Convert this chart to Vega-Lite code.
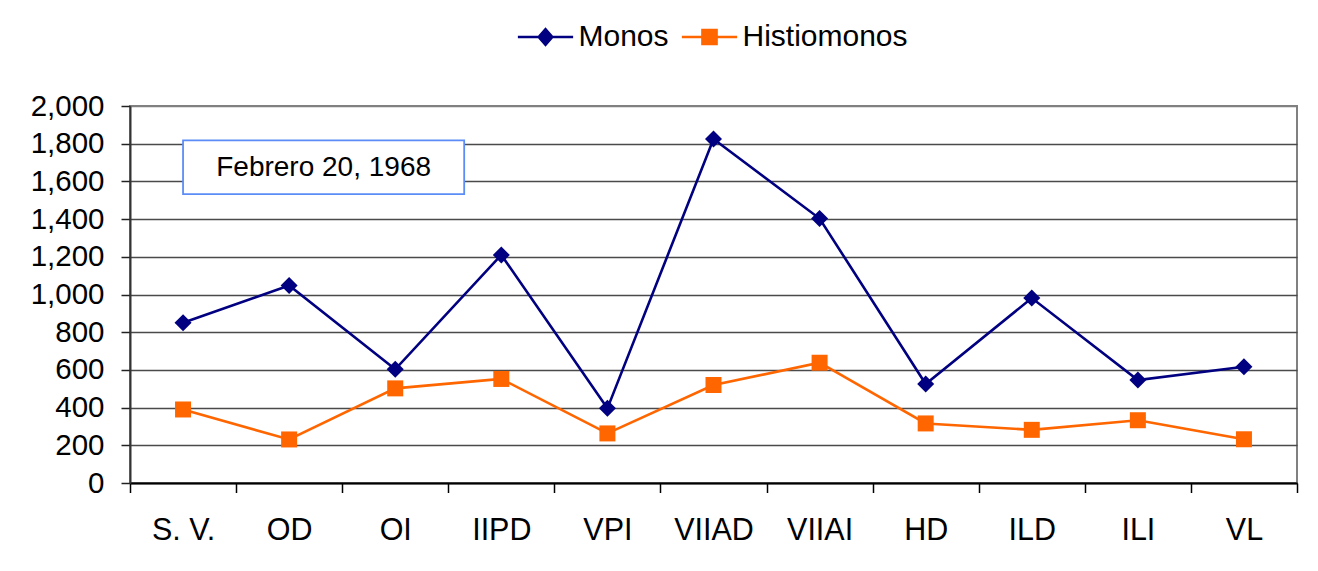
{
  "$schema": "https://vega.github.io/schema/vega-lite/v6.json",
  "width": 1167,
  "height": 377,
  "autosize": {"type": "none"},
  "padding": {"left": 130, "top": 106, "right": 21, "bottom": 88},
  "background": "white",
  "config": {
    "font": "Liberation Sans",
    "view": {"stroke": "#808080", "strokeWidth": 2}
  },
  "datasets": {
    "main": [
      {"site": "S. V.", "series": "Monos", "value": 850},
      {"site": "OD", "series": "Monos", "value": 1048},
      {"site": "OI", "series": "Monos", "value": 603},
      {"site": "IIPD", "series": "Monos", "value": 1210},
      {"site": "VPI", "series": "Monos", "value": 396},
      {"site": "VIIAD", "series": "Monos", "value": 1825},
      {"site": "VIIAI", "series": "Monos", "value": 1403},
      {"site": "HD", "series": "Monos", "value": 525},
      {"site": "ILD", "series": "Monos", "value": 981},
      {"site": "ILI", "series": "Monos", "value": 546},
      {"site": "VL", "series": "Monos", "value": 617},
      {"site": "S. V.", "series": "Histiomonos", "value": 390},
      {"site": "OD", "series": "Histiomonos", "value": 231},
      {"site": "OI", "series": "Histiomonos", "value": 502},
      {"site": "IIPD", "series": "Histiomonos", "value": 552},
      {"site": "VPI", "series": "Histiomonos", "value": 263},
      {"site": "VIIAD", "series": "Histiomonos", "value": 520},
      {"site": "VIIAI", "series": "Histiomonos", "value": 638},
      {"site": "HD", "series": "Histiomonos", "value": 316},
      {"site": "ILD", "series": "Histiomonos", "value": 282},
      {"site": "ILI", "series": "Histiomonos", "value": 333},
      {"site": "VL", "series": "Histiomonos", "value": 232}
    ]
  },
  "resolve": {"scale": {"x": "independent", "y": "independent"}},
  "layer": [
    {
      "data": {"name": "main"},
      "encoding": {
        "x": {
          "field": "site", "type": "nominal",
          "sort": ["S. V.", "OD", "OI", "IIPD", "VPI", "VIIAD", "VIIAI", "HD", "ILD", "ILI", "VL"],
          "scale": {"type": "band", "paddingInner": 0, "paddingOuter": 0},
          "axis": {
            "title": null, "orient": "bottom", "tickBand": "extent", "labelAngle": 0,
            "labelFontSize": 30.5, "labelColor": "black", "labelFont": "Liberation Sans",
            "tickColor": "black", "tickSize": 9.5, "tickWidth": 1.5,
            "domainColor": "black", "domainWidth": 2,
            "labelBaseline": "alphabetic", "labelPadding": 47, "grid": false
          }
        },
        "y": {
          "field": "value", "type": "quantitative",
          "scale": {"domain": [0, 2000], "nice": false},
          "axis": {
            "title": null,
            "values": [0, 200, 400, 600, 800, 1000, 1200, 1400, 1600, 1800, 2000],
            "labelExpr": "format(datum.value, ',.0f')", "labelOverlap": false,
            "labelFontSize": 29.5, "labelColor": "black", "labelFont": "Liberation Sans",
            "labelPadding": 17, "tickSize": 9, "tickColor": "#222", "tickWidth": 1.5,
            "grid": true,
            "gridColor": {"condition": {"test": "datum.value === 2000", "value": "#808080"}, "value": "#4a4a4a"},
            "gridWidth": 1.5,
            "domainColor": "#333333", "domainWidth": 2
          }
        },
        "color": {
          "field": "series", "type": "nominal",
          "scale": {"domain": ["Monos", "Histiomonos"], "range": ["#000080", "#FF6600"]},
          "legend": {
            "orient": "none", "legendX": 387, "legendY": -84,
            "direction": "horizontal", "title": null,
            "labelFontSize": 30, "labelFont": "Liberation Sans", "labelColor": "black",
            "labelLimit": 400,
            "symbolSize": 289, "symbolOffset": 13.5, "labelOffset": 18, "columnPadding": 12,
            "symbolStrokeWidth": 0, "symbolOpacity": 1
          }
        }
      },
      "layer": [
        {
          "mark": {"type": "line", "strokeWidth": 2.6}
        },
        {
          "transform": [{"filter": "datum.series === 'Monos'"}],
          "mark": {"type": "point", "filled": true, "opacity": 1, "shape": "diamond", "size": 290}
        },
        {
          "transform": [{"filter": "datum.series === 'Histiomonos'"}],
          "mark": {"type": "point", "filled": true, "opacity": 1, "shape": "square", "size": 256}
        },
        {
          "transform": [{"filter": "false"}],
          "mark": {"type": "point", "filled": true, "opacity": 1},
          "encoding": {
            "shape": {
              "field": "series", "type": "nominal",
              "scale": {
                "domain": ["Monos", "Histiomonos"],
                "range": [
                  "M-3.25,-0.15H3.25V0.15H-3.25Z M0,-1.15L1,0L0,1.15L-1,0Z",
                  "M-3.25,-0.15H3.25V0.15H-3.25Z M-0.98,-0.98H0.98V0.98H-0.98Z"
                ]
              }
            }
          }
        }
      ]
    },
    {
      "data": {"values": [{}]},
      "encoding": {
        "x": {"datum": 0.5, "type": "quantitative", "scale": {"domain": [0, 11], "nice": false, "zero": false}, "axis": null},
        "y": {"datum": 1532, "type": "quantitative", "scale": {"domain": [0, 2000], "nice": false, "zero": false}, "axis": null}
      },
      "layer": [
        {
          "mark": {"type": "rect", "fill": "white", "stroke": "#5C8DF6", "strokeWidth": 1.8},
          "encoding": {
            "x2": {"datum": 3.15},
            "y2": {"datum": 1818}
          }
        },
        {
          "mark": {"type": "text", "text": "Febrero 20, 1968", "fontSize": 28, "font": "Liberation Sans", "color": "black", "align": "center", "baseline": "middle", "dy": 1},
          "encoding": {
            "x": {"datum": 1.825, "type": "quantitative"},
            "y": {"datum": 1675, "type": "quantitative"}
          }
        }
      ]
    }
  ]
}
